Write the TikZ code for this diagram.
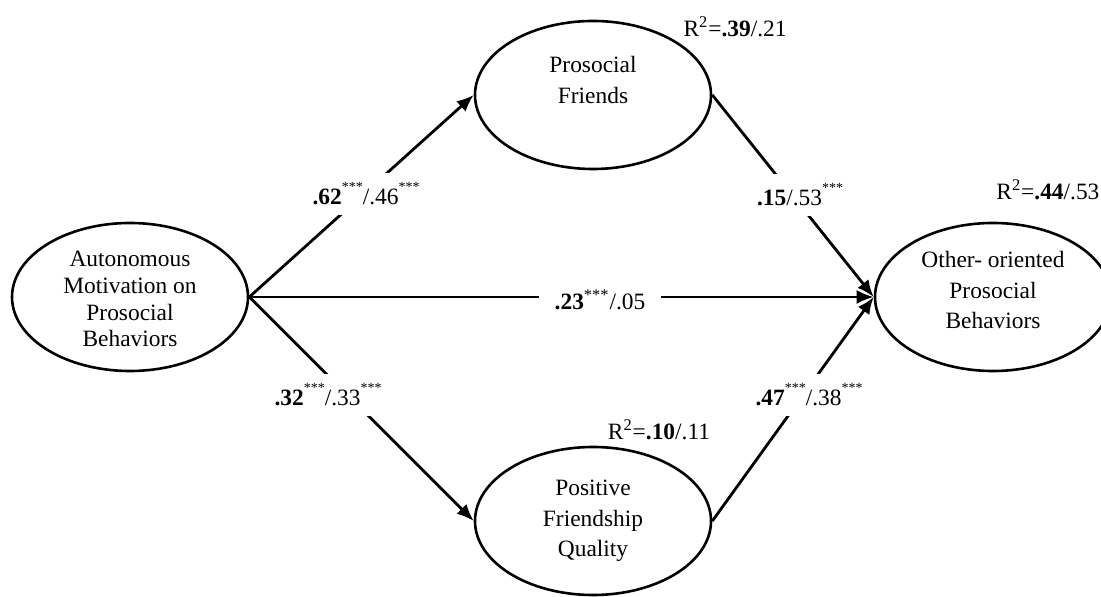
\documentclass[tikz,border=0pt]{standalone}
\usepackage{fontspec}
\setmainfont{Liberation Serif}
\usepackage{tikz}
\usetikzlibrary{shapes.geometric,arrows.meta}
\newcommand{\stars}{\raisebox{6.5pt}{\fontsize{7}{7}\selectfont ***}}
\tikzset{
  latent/.style={ellipse,draw=black,line width=1.3pt,minimum width=118pt,
                 minimum height=74pt,inner sep=0pt},
  ltext/.style={align=center,inner sep=0pt,font=\fontsize{11.7}{15.2}\selectfont},
  coef/.style={fill=white,inner xsep=2pt,inner ysep=5pt,font=\fontsize{11.7}{13.4}\selectfont},
  rsq/.style={inner sep=1pt,font=\fontsize{11.7}{13.4}\selectfont},
  arr/.style={-{Latex[length=8.5pt,width=7pt]},line width=1.4pt,draw=black},
}
\begin{document}
\begin{tikzpicture}[x=0.5pt,y=-0.5pt]
  \useasboundingbox (0,0) rectangle (1101,597);
  % latent variables
  \node[latent] (amp) at (130,297) {};
  \node[latent] (pf)  at (593,95)  {};
  \node[latent] (pfq) at (593,521) {};
  \node[latent] (opb) at (993,297) {};
  \node[ltext,font=\fontsize{11.7}{13.4}\selectfont] (amp-t) at (130,299)
    {Autonomous\\Motivation on\\Prosocial\\Behaviors};
  \node[ltext] (pf-t)  at (593,80)  {Prosocial\\Friends};
  \node[ltext] (pfq-t) at (593,521) {Positive\\Friendship\\Quality};
  \node[ltext] (opb-t) at (993,290) {Other- oriented\\Prosocial\\Behaviors};

  % paths
  \draw[arr] (amp.east) -- (pf.west);
  \draw[arr] (amp.east) -- (pfq.west);
  \draw[arr] (amp.east) -- (opb.west);
  \draw[arr] (pf.east) -- (opb.west);
  \draw[arr] (pfq.east) -- (opb.west);

  % coefficients
  \node[coef] (c1) at (366,194) {\textbf{.62}\stars/.46\stars};
  \node[coef] (c2) at (328,395) {\textbf{.32}\stars/.33\stars};
  \node[coef,inner xsep=8pt] (c3) at (600,300) {\textbf{.23}\textsuperscript{***}/.05};
  \node[coef] (c4) at (800,195) {\textbf{.15}/.53\stars};
  \node[coef] (c5) at (809,395) {\textbf{.47}\stars/.38\stars};

  % explained variance
  \node[rsq] (r1) at (735,27) {R\textsuperscript{2}=\textbf{.39}/.21};
  \node[rsq] (r2) at (659,430) {R\textsuperscript{2}=\textbf{.10}/.11};
  \node[rsq,anchor=west] (r3) at (994,190) {R\textsuperscript{2}=\textbf{.44}/.53};
\end{tikzpicture}
\end{document}
